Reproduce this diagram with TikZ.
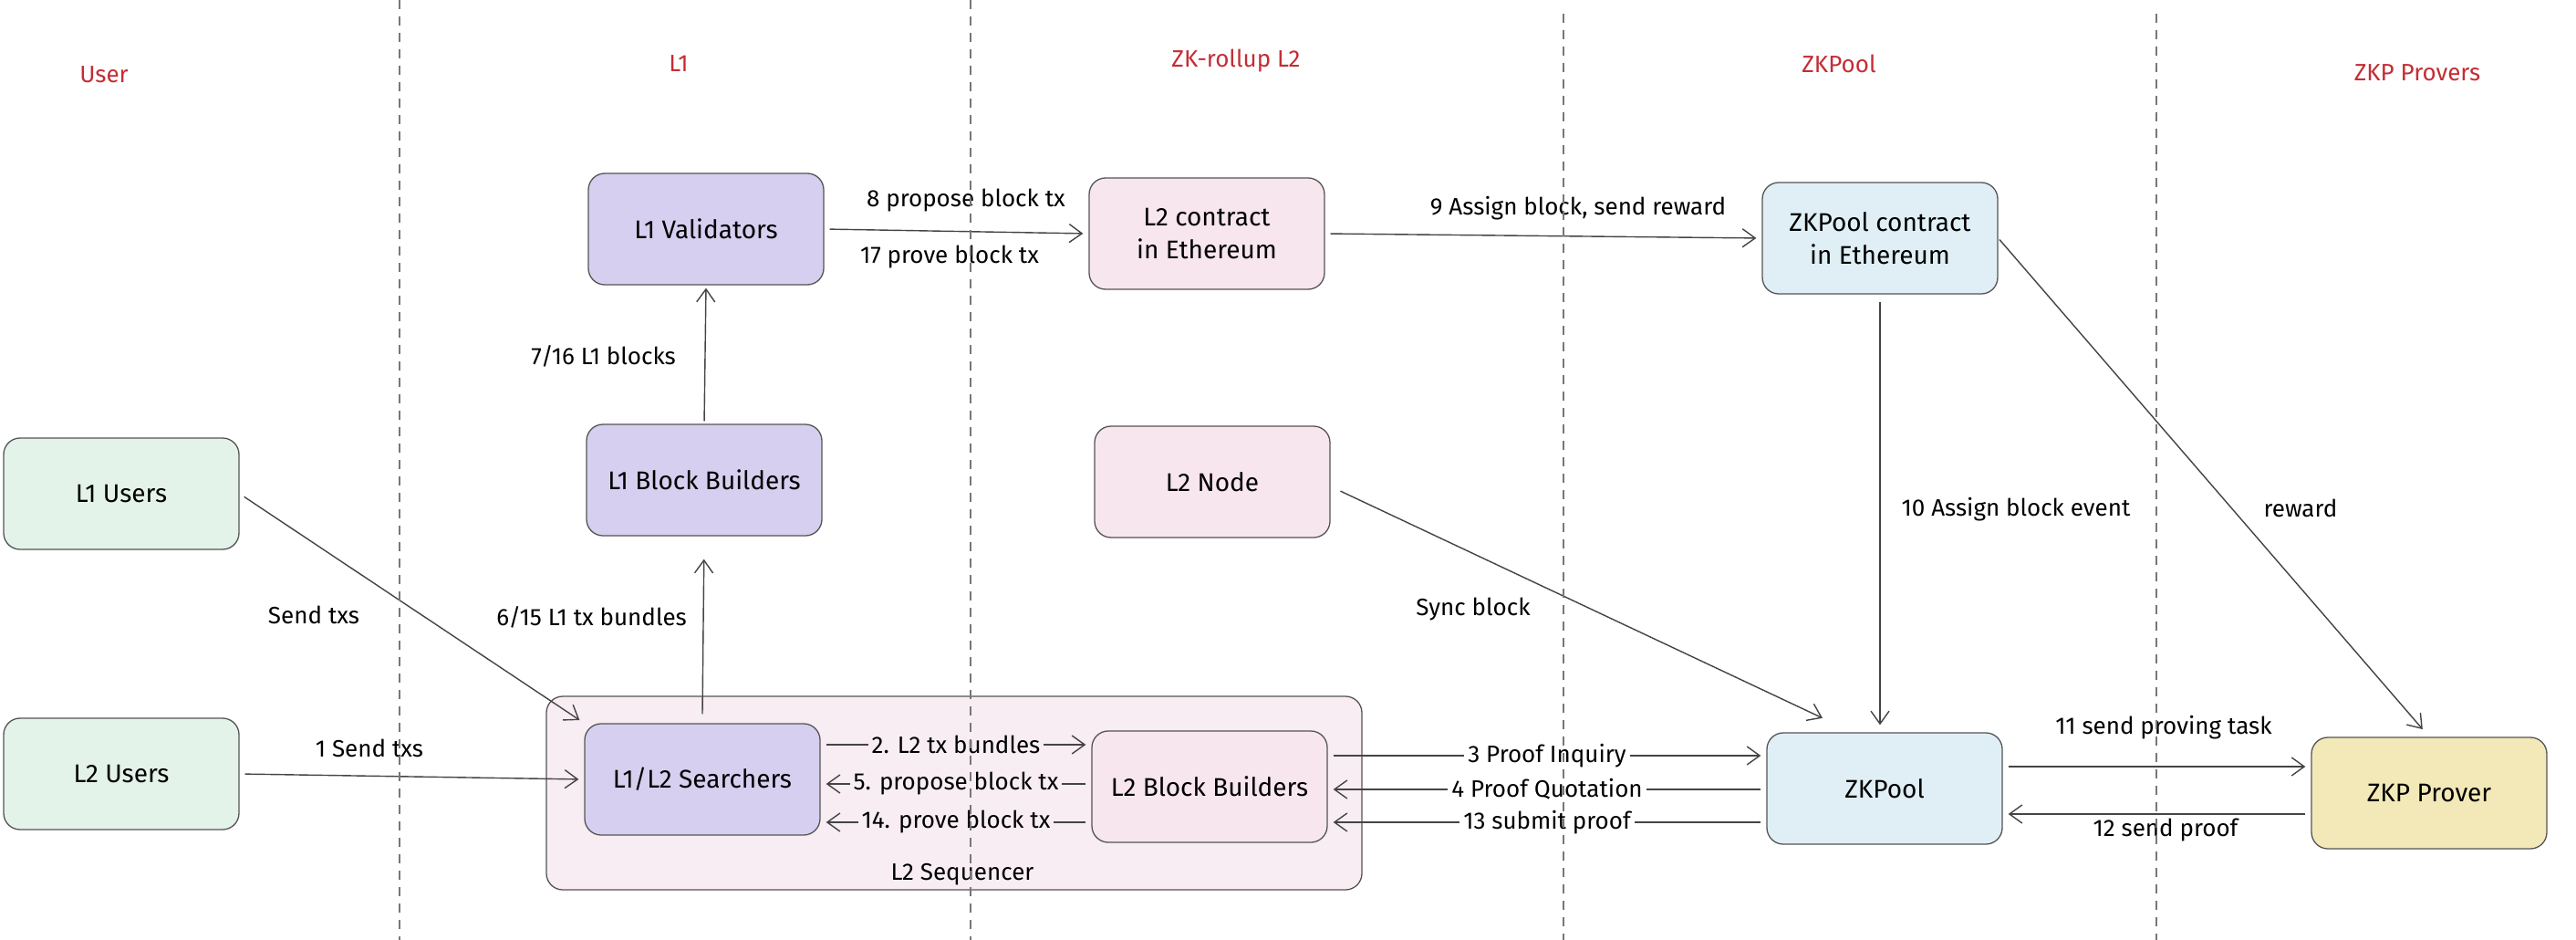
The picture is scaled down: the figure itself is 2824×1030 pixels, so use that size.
\documentclass[tikz,border=0pt]{standalone}
\usepackage{fontspec}
\setmainfont{Fira Sans}
\usetikzlibrary{arrows.meta,calc}
\definecolor{usergreen}{HTML}{E4F3EA}
\definecolor{lonepurple}{HTML}{D6CFEF}
\definecolor{ltwopink}{HTML}{F7E6EE}
\definecolor{seqpink}{HTML}{F7EDF2}
\definecolor{poolblue}{HTML}{E0EFF6}
\definecolor{proveryellow}{HTML}{F3E9B8}
\definecolor{bordergray}{HTML}{555555}
\definecolor{linegray}{HTML}{444444}
\definecolor{lanegray}{HTML}{777777}
\definecolor{titlered}{RGB}{196,45,52}
\begin{document}
\begin{tikzpicture}[x=1pt,y=-1pt,
  font=\fontsize{26}{32}\selectfont,
  box/.style={draw=bordergray, line width=1.3pt, rounded corners=18pt, minimum width=258pt, minimum height=122pt, align=center, text=black, font=\fontsize{28}{36}\selectfont},
  arr/.style={draw=linegray, line width=1.4pt, -{Straight Barb[length=14pt,width=20pt,line width=1.4pt]}, shorten >=6pt, shorten <=6pt},
  lbl/.style={text=black, inner sep=3pt},
  ilbl/.style={text=black, inner sep=4pt, fill=white},
  lanetitle/.style={text=titlered},
  lane/.style={draw=lanegray, line width=1.2pt, dash pattern=on 10pt off 8pt}]
\useasboundingbox[fill=white] (0,0) rectangle (2824,1030);

% column titles
\node[lanetitle] (tuser) at (114,82) {User};
\node[lanetitle] (tlone) at (744,70) {L1};
\node[lanetitle] (tzkr) at (1355,67) {ZK-rollup L2};
\node[lanetitle] (tpool) at (2016,70) {ZKPool};
\node[lanetitle] (tprov) at (2650,80) {ZKP Provers};

% sequencer container
\node[box, fill=seqpink, minimum width=894pt, minimum height=212pt] (seq) at (1046,869) {};
\node[lbl] (seqlbl) at (1055,958) {L2 Sequencer};

% boxes
\node[box, fill=usergreen] (l1u) at (133,541) {L1 Users};
\node[box, fill=usergreen] (l2u) at (133,848) {L2 Users};
\node[box, fill=lonepurple] (val) at (774,251) {L1 Validators};
\node[box, fill=lonepurple] (l1bb) at (772,526) {L1 Block Builders};
\node[box, fill=lonepurple] (srch) at (770,854) {L1/L2 Searchers};
\node[box, fill=ltwopink] (l2c) at (1323,256) {L2 contract\\in Ethereum};
\node[box, fill=ltwopink] (l2n) at (1329,528) {L2 Node};
\node[box, fill=ltwopink] (l2bb) at (1326,862) {L2 Block Builders};
\node[box, fill=poolblue] (zkpc) at (2061,261) {ZKPool contract\\in Ethereum};
\node[box, fill=poolblue] (zkp) at (2066,864) {ZKPool};
\node[box, fill=proveryellow] (prov) at (2663,869) {ZKP Prover};

% connectors
\draw[arr] (l1u.east) -- (srch.north west);
\draw[arr] (l2u.east) -- (srch.west);
\draw[arr, shorten >=25pt, shorten <=0pt] ([yshift=10pt]srch.north) -- (l1bb.south);
\draw[arr, shorten >=3pt, shorten <=3pt] (l1bb.north) -- (val.south);
\draw[arr] (val.east) -- (l2c.west);
\draw[arr] (l2c.east) -- (zkpc.west);
\draw[arr, shorten >=8pt, shorten <=8pt] (zkpc.south) -- (zkpc.south |- zkp.north);
\draw[arr, shorten <=12pt] ([yshift=-5pt]l2n.east) -- ($(zkp.north west)+(67,-13)$);
\draw[arr, shorten >=11pt, shorten <=2pt] (zkpc.east) -- (prov.north);

\draw[arr] ([yshift=38pt]srch.east) -- node[ilbl, fill=seqpink] {2. L2 tx bundles} ([yshift=38pt]srch.east -| l2bb.west);
\draw[arr] ([yshift=3pt]l2bb.west) -- node[ilbl, fill=seqpink] {5. propose block tx} ([yshift=3pt]l2bb.west -| srch.east);
\draw[arr] ([yshift=-39pt]l2bb.west) -- node[ilbl, fill=seqpink] {14. prove block tx} ([yshift=-39pt]l2bb.west -| srch.east);

\draw[arr] ([yshift=34pt]l2bb.east) -- node[ilbl] {3 Proof Inquiry} ([yshift=34pt]l2bb.east -| zkp.west);
\draw[arr] ([yshift=-1pt]zkp.west) -- node[ilbl] {4 Proof Quotation} ([yshift=-1pt]zkp.west -| l2bb.east);
\draw[arr] ([yshift=-37pt]zkp.west) -- node[ilbl] {13 submit proof} ([yshift=-37pt]zkp.west -| l2bb.east);

\draw[arr] ([yshift=24pt]zkp.east) -- ([yshift=24pt]zkp.east -| prov.west);
\draw[arr] ([yshift=-23pt]prov.west) -- ([yshift=-23pt]prov.west -| zkp.east);

% free labels
\node[lbl] (lab1) at (405,820) {1 Send txs};
\node[lbl] (labsend) at (344,674) {Send txs};
\node[lbl, anchor=east] (lab6) at (756,676) {6/15 L1 tx bundles};
\node[lbl, anchor=east] (lab7) at (744,390) {7/16 L1 blocks};
\node[lbl] (lab8) at (1059,220) {8 propose block tx};
\node[lbl] (lab17) at (1041,282) {17 prove block tx};
\node[lbl] (lab9) at (1730,228) {9 Assign block, send reward};
\node[lbl] (lab10) at (2210,558) {10 Assign block event};
\node[lbl] (labrew) at (2522,557) {reward};
\node[lbl] (labsync) at (1615,668) {Sync block};
\node[lbl] (lab11) at (2372,797) {11 send proving task};
\node[lbl] (lab12) at (2374,910) {12 send proof};

% lane separators
\draw[lane] (438,0) -- (438,1030);
\draw[lane] (1064,0) -- (1064,1030);
\draw[lane] (1714,15) -- (1714,1030);
\draw[lane] (2364,15) -- (2364,1030);
\end{tikzpicture}
\end{document}
